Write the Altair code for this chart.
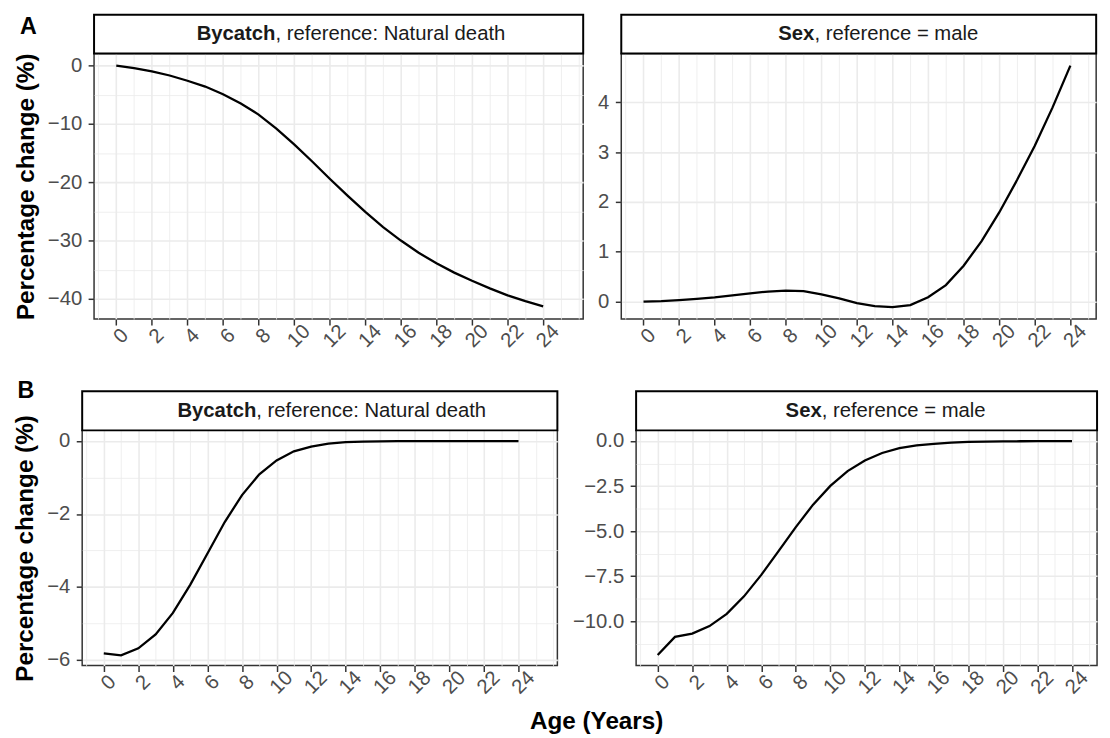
import json
import altair as alt
import pandas as pd

FONT = "Liberation Sans"

# ---- data ----
ages = list(range(25))
bycatch_a = [0.0, -0.45, -1.0, -1.7, -2.6, -3.6, -4.9, -6.5, -8.4, -10.8, -13.5, -16.4, -19.4,
             -22.3, -25.1, -27.7, -30.0, -32.1, -33.9, -35.5, -36.9, -38.2, -39.4, -40.4, -41.3]
sex_a = [0.0, 0.01, 0.03, 0.055, 0.085, 0.125, 0.165, 0.2, 0.22, 0.21, 0.145, 0.065, -0.03,
         -0.09, -0.11, -0.07, 0.085, 0.33, 0.72, 1.21, 1.79, 2.44, 3.13, 3.9, 4.74]
bycatch_b = [-5.82, -5.87, -5.68, -5.30, -4.71, -3.94, -3.08, -2.22, -1.48, -0.91, -0.53, -0.28,
             -0.15, -0.07, -0.03, -0.015, -0.007, -0.004, -0.002, -0.001, -0.0005, 0.0, 0.0, 0.0, 0.0]
sex_b = [-11.88, -10.87, -10.69, -10.27, -9.59, -8.62, -7.43, -6.11, -4.78, -3.53, -2.49, -1.67,
         -1.08, -0.66, -0.39, -0.24, -0.15, -0.09, -0.05, -0.03, -0.02, -0.01, -0.006, -0.003, 0.0]

# tick values
x_major = list(range(0, 25, 2))
x_minor = [-1] + list(range(1, 26, 2)) + [26]
ya_left_major = [0, -10, -20, -30, -40]
ya_left_minor = [-5, -15, -25, -35]
ya_right_major = [0, 1, 2, 3, 4]
ya_right_minor = [-0.5, 0.5, 1.5, 2.5, 3.5, 4.5]
yb_left_major = [0, -2, -4, -6]
yb_left_minor = [-1, -3, -5]
yb_right_major = [0, -2.5, -5, -7.5, -10]
yb_right_minor = [-1.25, -3.75, -6.25, -8.75, -11.25]

# strip texts
strip_bold = ["Bycatch", "Sex"]
strip_rest = [", reference: Natural death", ", reference = male"]
row_tags = ["A", "B"]
y_title = "Percentage change (%)"
x_title = "Age (Years)"

STRIP_X = 13.2
TICK_COL = "#333333"
LAB_COL = "#4d4d4d"
GRID_COL = "#ebebeb"
TICK_FS = 20.5
STRIP_FS = 20.5
TITLE_FS = 24.5


def panel(vals, xdom, ydom, ytop, width, height, ymaj, ymin, yfmt, bold, rest, split,
          ytitle=None, tag=None, tag_dx=0, tag_dy=0):
    df = pd.DataFrame({"age": ages, "pct": vals})
    sdf = pd.DataFrame({"x0": [xdom[0]], "x1": [xdom[1]], "y0": [ydom[1]], "y1": [ytop],
                        "xc": [STRIP_X], "yc": [(ydom[1] + ytop) / 2]})
    xv = [v for v in sorted(x_major + x_minor) if xdom[0] <= v <= xdom[1]]
    yv = [v for v in sorted(ymaj + ymin) if ydom[0] <= v <= ydom[1]]
    xt = "indexof(%s, datum.value) >= 0" % json.dumps(x_major)
    yt = "indexof(%s, datum.value) >= 0" % json.dumps(ymaj)

    xaxis = alt.Axis(
        values=xv, title=None, format="d", labelExpr="(%s) ? datum.label : ''" % xt,
        grid=True, gridColor=GRID_COL,
        gridWidth={"condition": {"test": xt, "value": 1.6}, "value": 0.8},
        domain=False, ticks=True, tickColor=TICK_COL, tickWidth=1.5, tickSize=6,
        tickOpacity={"condition": {"test": xt, "value": 1}, "value": 0},
        labelAngle=315, labelAlign="center", labelBaseline="middle", labelPadding=11,
        labelOffset=4.5, labelFont=FONT, labelFontSize=TICK_FS, labelColor=LAB_COL,
        labelOverlap=False, labelFlush=False)
    yaxis_kw = dict(
        values=yv, format=yfmt, labelExpr="(%s) ? datum.label : ''" % yt,
        grid=True, gridColor=GRID_COL,
        gridWidth={"condition": {"test": yt, "value": 1.6}, "value": 0.8},
        domain=False, ticks=True, tickColor=TICK_COL, tickWidth=1.5, tickSize=6,
        tickOpacity={"condition": {"test": yt, "value": 1}, "value": 0},
        labelPadding=6.5, labelFont=FONT, labelFontSize=TICK_FS, labelColor=LAB_COL,
        labelOverlap=False, labelFlush=False, minExtent=0)
    if ytitle:
        yaxis = alt.Axis(title=ytitle, titleFont=FONT, titleFontSize=TITLE_FS,
                         titleFontWeight="bold", titleColor="black", titlePadding=9, **yaxis_kw)
    else:
        yaxis = alt.Axis(title=None, **yaxis_kw)

    xs = alt.Scale(domain=list(xdom), nice=False, zero=False)
    ys = alt.Scale(domain=list(ydom), nice=False, zero=False)

    def X(f):
        return alt.X(f, type="quantitative", scale=xs, axis=xaxis)

    def Y(f):
        return alt.Y(f, type="quantitative", scale=ys, axis=yaxis)

    layers = [
        alt.Chart(df).mark_line(color="black", strokeWidth=2.3).encode(x=X("age"), y=Y("pct")),
        alt.Chart(sdf).mark_rect(fill="white", stroke="black", strokeWidth=2).encode(
            x=X("x0"), x2="x1", y=Y("y0"), y2="y1"),
        alt.Chart(sdf).mark_text(text=bold, align="right", baseline="middle", dx=split, dy=0,
                                 font=FONT, fontSize=STRIP_FS, fontWeight="bold",
                                 color="#1a1a1a").encode(x=X("xc"), y=Y("yc")),
        alt.Chart(sdf).mark_text(text=rest, align="left", baseline="middle", dx=split, dy=0,
                                 font=FONT, fontSize=STRIP_FS, color="#1a1a1a").encode(
            x=X("xc"), y=Y("yc")),
    ]
    if tag:
        layers.append(alt.Chart(sdf).mark_text(text=tag, align="center", baseline="alphabetic",
                                               dx=tag_dx, dy=tag_dy, font=FONT, fontSize=23.5,
                                               fontWeight="bold", color="black").encode(
            x=X("x0"), y=Y("yc")))
    return alt.layer(*layers).properties(width=width, height=height)


def spacer(w, h):
    # invisible filler used only to offset panels inside a row
    return alt.Chart(pd.DataFrame({"s": [0]})).mark_point(opacity=0).encode(
        x=alt.X("s:Q", axis=None), y=alt.Y("s:Q", axis=None)
    ).properties(width=w, height=h, view=alt.ViewBackground(strokeOpacity=0))


SPLIT_BY = -76.4
SPLIT_SEX = -64.6
HA, HB = 268.5, 237.8

a_left = panel(bycatch_a, (-1.25, 26.25), (-43.47, 2.07), 8.72, 494.5, HA,
               ya_left_major, ya_left_minor, "d", strip_bold[0], strip_rest[0], SPLIT_BY,
               ytitle=y_title, tag=row_tags[0], tag_dx=-66.5, tag_dy=0)
a_right = panel(sex_a, (-1.25, 25.45), (-0.3525, 4.9825), 5.76, 480.1, HA,
                ya_right_major, ya_right_minor, "d", strip_bold[1], strip_rest[1], SPLIT_SEX)
b_left = panel(bycatch_b, (-1.25, 26.25), (-6.153, 0.293), 1.364, 480.4, HB,
               yb_left_major, yb_left_minor, "d", strip_bold[0], strip_rest[0], SPLIT_BY,
               ytitle=y_title, tag=row_tags[1], tag_dx=-57, tag_dy=-12.75)
b_right = panel(sex_b, (-1.25, 25.45), (-12.4635, 0.5935), 2.763, 466.0, HB,
                yb_right_major, yb_right_minor, ".1f", strip_bold[1], strip_rest[1], SPLIT_SEX)

row_a = alt.hconcat(spacer(11.5, HA), a_left, spacer(37.6, HA), a_right,
                    spacing=0, bounds="flush")
row_b = alt.hconcat(b_left, spacer(78.6, HB), b_right, spacing=0, bounds="flush")

chart = alt.vconcat(
    row_a, row_b, spacing=26,
    title=alt.TitleParams(x_title, orient="bottom", anchor="middle", font=FONT,
                          fontSize=TITLE_FS, fontWeight="bold", color="black",
                          offset=12, dx=40),
).properties(
    padding={"left": 4, "top": 1, "right": 0, "bottom": 0}
).configure(font=FONT).configure_view(stroke=TICK_COL, strokeWidth=1.5)

chart.save("out.html", embed_options={"renderer": "svg", "actions": False})
